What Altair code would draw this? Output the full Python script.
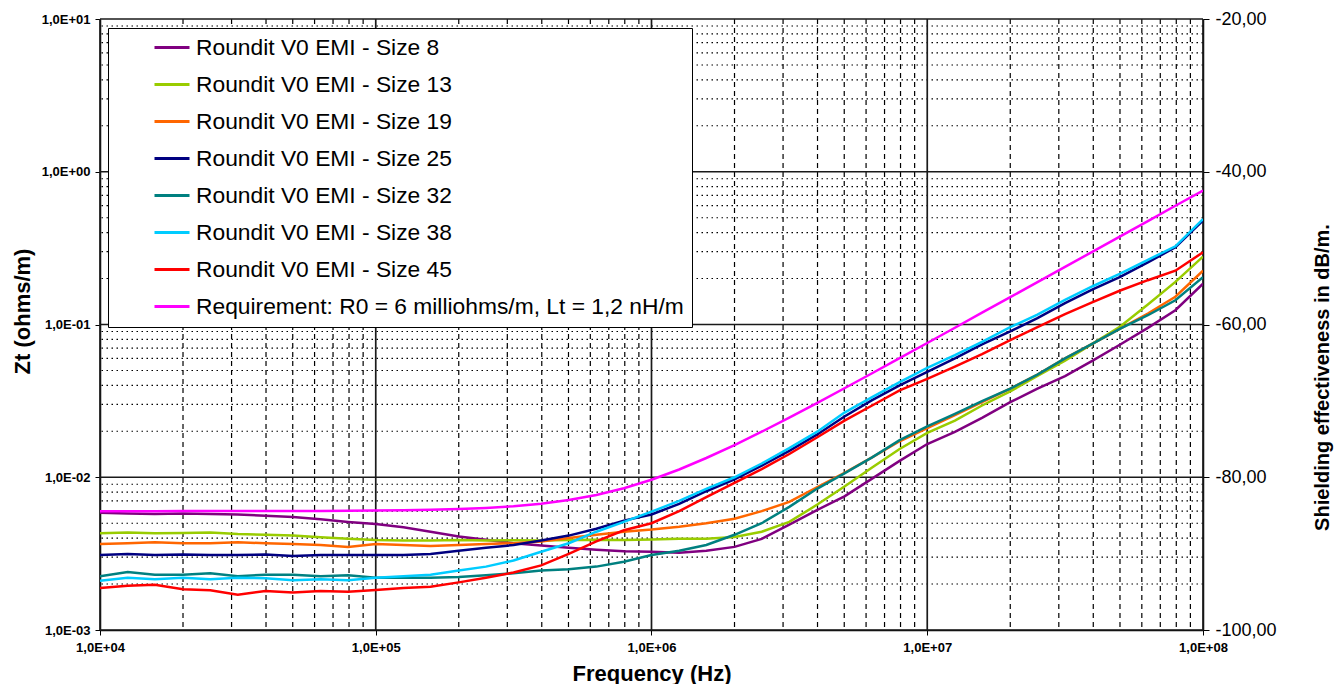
import altair as alt
import pandas as pd

# Frequency grid (Hz)
freq_hz = [
    1.00e4, 1.26e4, 1.58e4, 2.00e4, 2.51e4, 3.16e4, 3.98e4, 5.01e4, 6.31e4, 7.94e4,
    1.00e5, 1.26e5, 1.58e5, 2.00e5, 2.51e5, 3.16e5, 3.98e5, 5.01e5, 6.31e5, 7.94e5,
    1.00e6, 1.26e6, 1.58e6, 2.00e6, 2.51e6, 3.16e6, 3.98e6, 5.01e6, 6.31e6, 7.94e6,
    1.00e7, 1.26e7, 1.58e7, 2.00e7, 2.51e7, 3.16e7, 3.98e7, 5.01e7, 6.31e7, 7.94e7,
    1.00e8,
]

# Transfer impedance values, in milliohms/m
size8 = [5.85, 5.80, 5.75, 5.80, 5.75, 5.70, 5.60, 5.50, 5.30, 5.10,
         4.95, 4.70, 4.40, 4.10, 3.90, 3.70, 3.58, 3.45, 3.35, 3.28,
         3.25, 3.20, 3.30, 3.50, 3.95, 4.90, 6.10, 7.50, 9.80, 12.8,
         16.5, 19.8, 24.5, 31.0, 38.0, 46.0, 58.0, 74.0, 95.0, 124.0,
         185.0]
size13 = [4.30, 4.35, 4.30, 4.32, 4.35, 4.25, 4.20, 4.15, 4.05, 3.95,
          3.88, 3.85, 3.85, 3.88, 3.85, 3.87, 3.85, 3.88, 3.90, 3.88,
          3.92, 3.95, 3.95, 4.07, 4.40, 5.10, 6.60, 8.70, 11.6, 15.3,
          19.5, 23.5, 29.5, 36.5, 46.0, 58.0, 75.0, 97.0, 135.0, 190.0,
          278.0]
size19 = [3.65, 3.70, 3.75, 3.70, 3.70, 3.75, 3.70, 3.65, 3.60, 3.50,
          3.65, 3.60, 3.55, 3.60, 3.65, 3.70, 3.80, 4.00, 4.20, 4.40,
          4.55, 4.75, 5.00, 5.35, 6.00, 6.90, 8.60, 10.7, 13.5, 17.2,
          21.0, 25.5, 31.0, 38.0, 47.0, 60.0, 75.0, 94.0, 118.0, 152.0,
          225.0]
size25 = [3.10, 3.15, 3.10, 3.12, 3.10, 3.10, 3.12, 3.05, 3.10, 3.10,
          3.10, 3.10, 3.15, 3.30, 3.45, 3.60, 3.85, 4.15, 4.60, 5.20,
          5.70, 6.70, 8.10, 9.70, 11.9, 14.9, 19.0, 25.0, 32.0, 40.0,
          49.0, 60.0, 74.0, 90.0, 110.0, 138.0, 170.0, 205.0, 255.0, 320.0,
          480.0]
size32 = [2.25, 2.40, 2.30, 2.30, 2.35, 2.25, 2.30, 2.30, 2.25, 2.28,
          2.20, 2.20, 2.20, 2.22, 2.28, 2.35, 2.45, 2.50, 2.60, 2.80,
          3.10, 3.30, 3.60, 4.20, 5.00, 6.40, 8.40, 10.6, 13.5, 17.5,
          21.5, 26.0, 31.5, 38.0, 47.0, 60.0, 75.0, 94.0, 115.0, 144.0,
          204.0]
size38 = [2.10, 2.20, 2.15, 2.20, 2.15, 2.20, 2.18, 2.12, 2.15, 2.12,
          2.20, 2.25, 2.30, 2.45, 2.60, 2.85, 3.25, 3.70, 4.40, 5.10,
          5.95, 7.00, 8.40, 10.0, 12.3, 15.5, 19.8, 26.5, 33.5, 42.0,
          52.0, 63.0, 77.0, 96.0, 116.0, 145.0, 178.0, 215.0, 265.0, 325.0,
          490.0]
size45 = [1.88, 1.95, 1.98, 1.85, 1.82, 1.70, 1.80, 1.76, 1.80, 1.78,
          1.83, 1.88, 1.92, 2.05, 2.20, 2.38, 2.65, 3.15, 3.80, 4.50,
          5.00, 6.00, 7.40, 9.20, 11.3, 14.2, 18.2, 23.5, 29.5, 37.0,
          44.0, 53.0, 64.0, 79.0, 96.0, 117.0, 140.0, 167.0, 195.0, 225.0,
          297.0]
requirement = [6.000, 6.001, 6.001, 6.002, 6.003, 6.005, 6.008, 6.012, 6.019, 6.030,
               6.047, 6.075, 6.118, 6.187, 6.292, 6.456, 6.708, 7.090, 7.657, 8.476,
               9.636, 11.24, 13.37, 16.23, 19.86, 24.57, 30.60, 38.25, 47.95, 60.17,
               75.64, 95.19, 119.6, 150.9, 189.4, 238.3, 300.1, 377.8, 475.7, 598.7,
               754.0]

series_names = [
    "Roundit V0 EMI - Size 8",
    "Roundit V0 EMI - Size 13",
    "Roundit V0 EMI - Size 19",
    "Roundit V0 EMI - Size 25",
    "Roundit V0 EMI - Size 32",
    "Roundit V0 EMI - Size 38",
    "Roundit V0 EMI - Size 45",
    "Requirement: R0 = 6 milliohms/m, Lt = 1,2 nH/m",
]
series_values = [size8, size13, size19, size25, size32, size38, size45, requirement]
series_colors = ["#800080", "#99CC00", "#FF6600", "#000080", "#008080",
                 "#00CCFF", "#FF0000", "#FF00FF"]

# Axis ticks / grid positions
x_major = [1e4, 1e5, 1e6, 1e7, 1e8]
x_minor = [k * 10 ** d for d in range(4, 8) for k in range(2, 10)]
y_major = [1e-3, 1e-2, 1e-1, 1e0, 1e1]
y_minor = [k * 10.0 ** d for d in range(-3, 1) for k in range(2, 10)]
db_ticks = [-100, -80, -60, -40, -20]

rows = []
for idx, (name, vals) in enumerate(zip(series_names, series_values)):
    for f, v in zip(freq_hz, vals):
        rows.append({"f": f, "z": v / 1000.0, "s": name, "o": idx})
df = pd.DataFrame(rows)

xscale = alt.Scale(type="log", domain=[1e4, 1e8], nice=False)
yscale = alt.Scale(type="log", domain=[1e-3, 1e1], nice=False)

LABEL_FONT = "Liberation Sans Narrow, Liberation Sans, Arial, sans-serif"
FONT = "Liberation Sans, Arial, sans-serif"

exp_expr = ("'1,0E' + (datum.value >= 1 ? '+' : '-') + '0' + "
            "abs(round(log(datum.value) / LN10))")

xaxis = alt.Axis(
    values=x_major, labelExpr=exp_expr, grid=False,
    title="Frequency (Hz)", titleFont=FONT, titleFontSize=22,
    titleFontWeight="bold", titleColor="black", titlePadding=9,
    labelFont=LABEL_FONT, labelFontSize=13, labelFontWeight="bold",
    labelColor="black", labelPadding=6, tickSize=5, tickColor="black",
    domainColor="black", domainWidth=1.5, labelFlush=False,
)
yaxis = alt.Axis(
    values=y_major, labelExpr=exp_expr, grid=False,
    title="Zt (ohms/m)", titleFont=FONT, titleFontSize=22,
    titleFontWeight="bold", titleColor="black", titleAngle=270,
    titleX=-78, titleY=292, titleAlign="center", titleBaseline="middle",
    labelFont=LABEL_FONT, labelFontSize=13, labelFontWeight="bold",
    labelColor="black", labelPadding=5, tickSize=5, tickColor="black",
    domainColor="black", domainWidth=1.5, labelFlush=False,
)

vminor = alt.Chart(pd.DataFrame({"f": x_minor})).mark_rule(
    color="black", strokeWidth=1.2, strokeDash=[5, 4]
).encode(x=alt.X("f:Q", scale=xscale, axis=xaxis))

hminor = alt.Chart(pd.DataFrame({"z": y_minor})).mark_rule(
    color="black", strokeWidth=1.2, strokeDash=[1.5, 3.5]
).encode(y=alt.Y("z:Q", scale=yscale, axis=yaxis))

vmajor = alt.Chart(pd.DataFrame({"f": x_major})).mark_rule(
    color="#1a1a1a", strokeWidth=1.7
).encode(x=alt.X("f:Q", scale=xscale, axis=xaxis))

hmajor = alt.Chart(pd.DataFrame({"z": y_major})).mark_rule(
    color="#1a1a1a", strokeWidth=1.7
).encode(y=alt.Y("z:Q", scale=yscale, axis=yaxis))

lines = alt.Chart(df).mark_line(strokeWidth=2.5, clip=True).encode(
    x=alt.X("f:Q", scale=xscale, axis=xaxis),
    y=alt.Y("z:Q", scale=yscale, axis=yaxis),
    color=alt.Color(
        "s:N", sort=series_names,
        scale=alt.Scale(domain=series_names, range=series_colors),
        legend=alt.Legend(
            orient="none", legendX=8, legendY=9, title=None,
            symbolType="stroke", symbolSize=1225, symbolStrokeWidth=3,
            symbolOffset=37, labelOffset=5, clipHeight=23,
            labelFont=FONT, labelFontSize=22.8, labelColor="black", labelLimit=800,
            padding=8, rowPadding=13, fillColor="white", strokeColor="black",
            zindex=1,
        ),
    ),
    order=alt.Order("o:Q"),
    detail="s:N",
)

right = alt.Chart(pd.DataFrame({"db": db_ticks})).mark_point(opacity=0).encode(
    y=alt.Y(
        "db:Q", scale=alt.Scale(domain=[-100, -20], nice=False, zero=False),
        axis=alt.Axis(
            orient="right", values=db_ticks, grid=False,
            labelExpr="'-' + replace(format(abs(datum.value), '.2f'), '.', ',')",
            labelFont=FONT, labelFontSize=18, labelColor="black", labelPadding=6,
            tickSize=6, tickColor="black", domainColor="black", domainWidth=1.5,
            title="Shielding effectiveness in dB/m.", titleFont=FONT,
            titleFontSize=20, titleFontWeight="bold", titleColor="black",
            titleAngle=270, titleX=119, titleY=358, titleAlign="center",
            titleBaseline="middle", labelFlush=False,
        ),
    )
)

main = alt.layer(vminor, hminor, vmajor, hmajor, lines)

chart = alt.layer(main, right).resolve_scale(y="independent").properties(
    width=1103, height=611,
    autosize=alt.AutoSizeParams(type="none"),
    padding={"left": 92, "top": 11, "right": 133, "bottom": 54},
    background="white",
).configure_view(strokeWidth=0)

chart.save("out.html", embed_options={"renderer": "svg", "actions": False})
